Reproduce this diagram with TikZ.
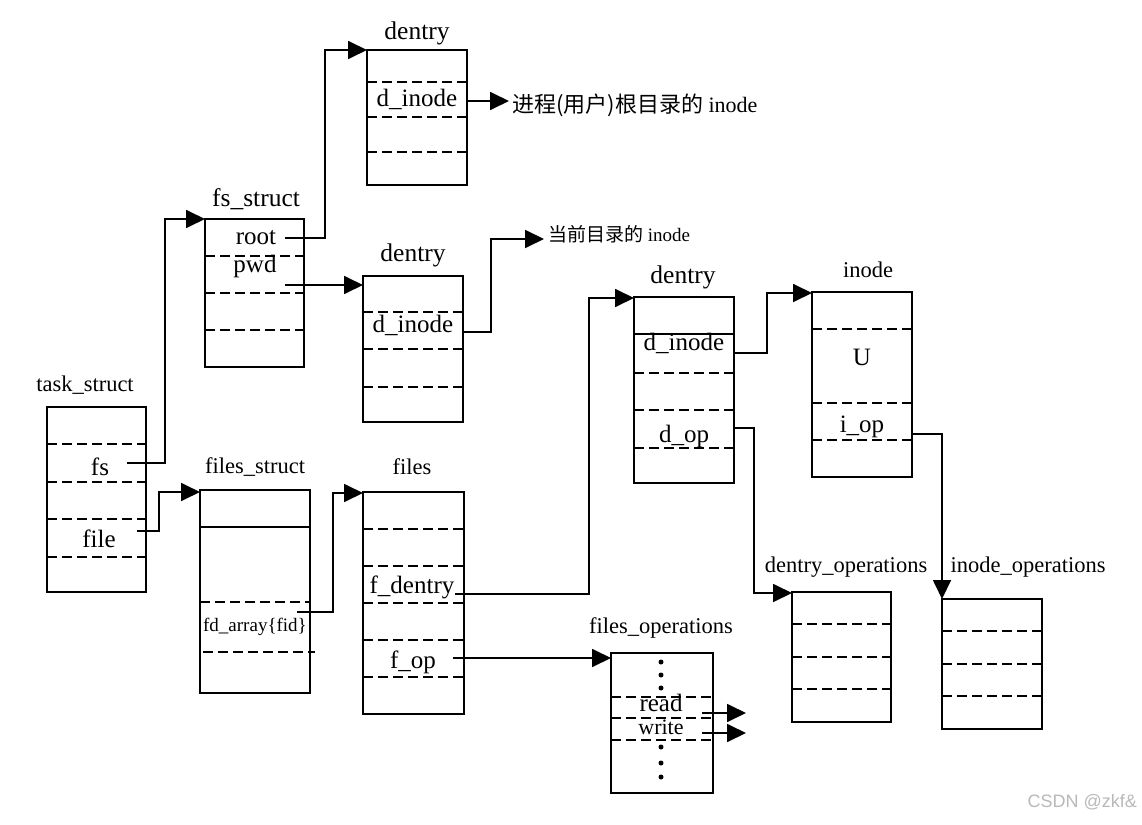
\documentclass[tikz,border=0pt]{standalone}
\usepackage{fontspec}
\setmainfont{Liberation Serif}
\newfontfamily\cjk{Noto Sans CJK SC}
\newfontfamily\wmfont{Liberation Sans}
\usetikzlibrary{arrows.meta,calc}
\newcommand\dline[2]{\draw[sep] ($(#1.north west)+(0,#2)$) -- ($(#1.north east)+(0,#2)$);}
\newcommand\sline[2]{\draw[solidsep] ($(#1.north west)+(0,#2)$) -- ($(#1.north east)+(0,#2)$);}
\begin{document}
\begin{tikzpicture}[x=1pt,y=-1pt,
  box/.style={draw,line width=2pt,rectangle,inner sep=0pt,outer sep=0pt,anchor=north west},
  sep/.style={line width=2pt,dash pattern=on 10pt off 5pt},
  solidsep/.style={line width=2pt},
  conn/.style={line width=1.8pt},
  arr/.style={conn,-{Triangle[length=19pt,width=18pt]}},
  fld/.style={inner sep=0pt,font=\fontsize{25}{28}\selectfont},
  bigttl/.style={inner sep=0pt,font=\fontsize{25.5}{28}\selectfont},
  smlttl/.style={inner sep=0pt,font=\fontsize{22.5}{26}\selectfont},
  dot/.style={circle,fill,inner sep=0pt,minimum size=5pt},
]
\fill[white] (0,0) rectangle (1142,824);
\useasboundingbox (0,0) rectangle (1142,824);

% ---------- boxes ----------
\node[box,minimum width=100pt,minimum height=135pt] (d1) at (367,50) {};
\node[box,minimum width=99pt,minimum height=148pt] (fs) at (205,219) {};
\node[box,minimum width=100pt,minimum height=146pt] (d2) at (363,276) {};
\node[box,minimum width=99pt,minimum height=185pt] (ts) at (47,407) {};
\node[box,minimum width=110pt,minimum height=203pt] (fst) at (200,490) {};
\node[box,minimum width=101pt,minimum height=222pt] (fl) at (363,492) {};
\node[box,minimum width=102pt,minimum height=140pt] (fo) at (611,653) {};
\node[box,minimum width=100pt,minimum height=186pt] (d3) at (634,297) {};
\node[box,minimum width=100pt,minimum height=185pt] (in) at (812,292) {};
\node[box,minimum width=99pt,minimum height=130pt] (do) at (792,592) {};
\node[box,minimum width=100pt,minimum height=130pt] (io) at (942,599) {};

% ---------- separators ----------
\dline{d1}{32}\dline{d1}{67}\dline{d1}{102}
\dline{fs}{37}\dline{fs}{74}\dline{fs}{111}
\dline{d2}{36}\dline{d2}{73}\dline{d2}{111}
\dline{ts}{37}\dline{ts}{75}\dline{ts}{112}\dline{ts}{150}
\sline{fst}{37}\dline{fst}{112}
\draw[sep] ($(fst.north west)+(3,162)$) -- ($(fst.north east)+(5,162)$);
\dline{fl}{37}\dline{fl}{74}\dline{fl}{111}\dline{fl}{148}\dline{fl}{185}
\dline{fo}{44}\dline{fo}{65}\dline{fo}{87}
\sline{d3}{37}\dline{d3}{76}\dline{d3}{113}\dline{d3}{151}
\dline{in}{37}\dline{in}{111}\dline{in}{148}
\dline{do}{32}\dline{do}{65}\dline{do}{97}
\dline{io}{32}\dline{io}{65}\dline{io}{97}

% ---------- titles ----------
\node[bigttl] (d1t) at (417,33) {dentry};
\node[bigttl] (fst-t) at (256,199) {fs\_struct};
\node[bigttl] (d2t) at (413,255) {dentry};
\node[smlttl] (tst) at (85,385) {task\_struct};
\node[smlttl] (fstt) at (255,467) {files\_struct};
\node[smlttl] (flt) at (412,467) {files};
\node[smlttl] (fot) at (661,628) {files\_operations};
\node[bigttl] (d3t) at (683,277) {dentry};
\node[smlttl] (int) at (868,270) {inode};
\node[smlttl] (dot-t) at (846,567) {dentry\_operations};
\node[smlttl] (iot) at (1028,567) {inode\_operations};

% ---------- fields ----------
\node[fld] (d1f) at (417,99) {d\_inode};
\node[fld] (rootf) at (256,238) {root};
\node[fld] (pwdf) at (255,266) {pwd};
\node[fld] (d2f) at (413,325) {d\_inode};
\node[fld] (fsf) at (100,467) {fs};
\node[fld] (filef) at (99,539) {file};
\node[inner sep=0pt,font=\fontsize{19}{22}\selectfont] (fdf) at (255,627) {fd\_array\{fid\}};
\node[fld] (fdenf) at (412,587) {f\_dentry};
\node[fld] (fopf) at (413,662) {f\_op};
\node[fld] (rdf) at (661,703) {read};
\node[inner sep=0pt,font=\fontsize{22}{24}\selectfont] (wrf) at (661,727) {write};
\node[fld] (d3f) at (684,343) {d\_inode};
\node[fld] (dopf) at (684,436) {d\_op};
\node[fld] (uf) at (862,357) {U};
\node[fld] (iopf) at (862,427) {i\_op};

% dots in files_operations
\node[dot] (o1) at (661,662) {};
\node[dot] (o2) at (661,675) {};
\node[dot] (o3) at (661,688) {};
\node[dot] (o4) at (661,747) {};
\node[dot] (o5) at (661,763) {};
\node[dot] (o6) at (661,777) {};

% ---------- free texts ----------
\node[inner sep=0pt,anchor=west,font=\fontsize{22}{26}\selectfont] (t1) at (512,105) {{\cjk 进程(用户)根目录的} inode};
\node[inner sep=0pt,anchor=west,font=\fontsize{19}{22}\selectfont] (t2) at (548,234) {{\cjk 当前目录的} inode};
\node[inner sep=0pt,anchor=east,text=gray!55,font=\wmfont\fontsize{18}{20}\selectfont] (wm) at (1137,802) {CSDN @zkf\&};

% ---------- connector endpoints ----------
\coordinate (tsfs) at (127,463);
\coordinate (tsfile) at (137,531);
\coordinate (rooto) at (285,238);
\coordinate (pwdo) at (285,285);
\coordinate (d1o) at (467,101);
\coordinate (t1a) at (509,101);
\coordinate (d2o) at (463,332);
\coordinate (t2a) at (544,239);
\coordinate (fdo) at (297,612);
\coordinate (fdeno) at (455,594);
\coordinate (fopo) at (453,658);
\coordinate (d3o) at (734,353);
\coordinate (dopo) at (734,428);
\coordinate (iopo) at (912,434);
\coordinate (rdo) at (702,713);
\coordinate (rda) at (746,713);
\coordinate (wro) at (702,733);
\coordinate (wra) at (746,733);

% ---------- connectors ----------
\draw[arr] (tsfs) -- ++(38,0) |- (fs.north west);
\draw[arr] (tsfile) -- ++(22,0) |- ($(fst.north west)+(0,2)$);
\draw[arr] (rooto) -- ++(40,0) |- (d1.north west);
\draw[arr] (pwdo) -- ($(d2.north west)+(0,9)$);
\draw[arr] (d1o) -- (t1a);
\draw[arr] (d2o) -- ++(28,0) |- (t2a);
\draw[arr] (fdo) -- ++(36,0) |- ($(fl.north west)+(0,1)$);
\draw[arr] (fdeno) -- ++(134,0) |- ($(d3.north west)+(0,1)$);
\draw[arr] (fopo) -- ($(fo.north west)+(0,5)$);
\draw[arr] (d3o) -- ++(33,0) |- ($(in.north west)+(0,1)$);
\draw[arr] (dopo) -- ++(20,0) |- ($(do.north west)+(0,1)$);
\draw[arr] (iopo) -| (io.north west);
\draw[arr] (rdo) -- (rda);
\draw[arr] (wro) -- (wra);
\end{tikzpicture}
\end{document}
